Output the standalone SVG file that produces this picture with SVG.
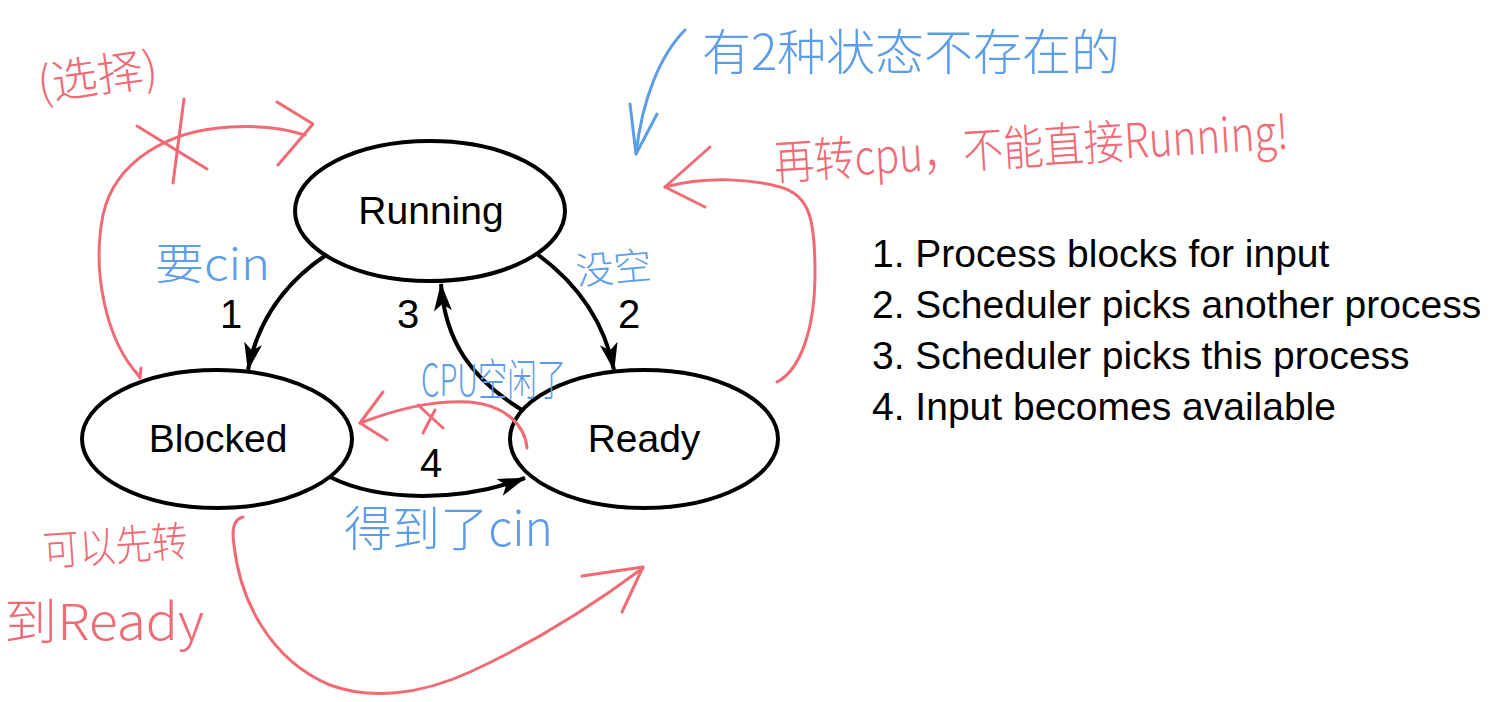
<svg xmlns="http://www.w3.org/2000/svg" width="1506" height="702" viewBox="0 0 1506 702">
<style>
.node{fill:#fff;stroke:#000;stroke-width:4}
.lbl{font-family:"Liberation Sans",Arial,sans-serif;font-size:39px;fill:#000;text-anchor:middle}
.num{font-family:"Liberation Sans",Arial,sans-serif;font-size:40px;fill:#000;text-anchor:middle}
.list{font-family:"Liberation Sans",Arial,sans-serif;font-size:39px;fill:#000}
.edge{fill:none;stroke:#000;stroke-width:4}
.rs{fill:none;stroke:#ef6b76;stroke-width:3;stroke-linecap:round;stroke-linejoin:round}
.bs{fill:none;stroke:#5d9de8;stroke-width:3;stroke-linecap:round;stroke-linejoin:round}
.hr{font-family:"Noto Sans CJK SC","Noto Sans",sans-serif;font-weight:300;fill:#ef6b76}
.hb{font-family:"Noto Sans CJK SC","Noto Sans",sans-serif;font-weight:300;fill:#5d9de8}
</style>
<defs>
<marker id="ah" markerUnits="userSpaceOnUse" markerWidth="32" markerHeight="20" refX="27" refY="9" orient="auto">
<path d="M0,0 L28,9 L0,18 L7,9 z" fill="#000"/>
</marker>
</defs>
<rect width="1506" height="702" fill="#fff"/>

<g id="connectors">
<path class="edge" d="M326,255 Q262,298 248,370" marker-end="url(#ah)"/>
<path class="edge" d="M537,254 Q600,300 614,370" marker-end="url(#ah)"/>
<path class="edge" d="M522,410 C470,378 445,340 441,284" marker-end="url(#ah)"/>
<path class="edge" d="M330,477 C380,502 460,502 525,478" marker-end="url(#ah)"/>
<text class="num" x="231" y="328">1</text>
<text class="num" x="629" y="328">2</text>
<text class="num" x="408" y="328">3</text>
<text class="num" x="431" y="477">4</text>
</g>

<g id="running">
<ellipse class="node" cx="430" cy="211" rx="135" ry="70"/>
<text class="lbl" x="431" y="224">Running</text>
</g>
<g id="blocked">
<ellipse class="node" cx="217" cy="439" rx="135" ry="69"/>
<text class="lbl" x="218" y="452">Blocked</text>
</g>
<g id="ready">
<ellipse class="node" cx="644" cy="439" rx="134" ry="69"/>
<text class="lbl" x="644" y="452">Ready</text>
</g>

<g id="legend">
<text class="list" x="872" y="267">1. Process blocks for input</text>
<text class="list" x="872" y="318">2. Scheduler picks another process</text>
<text class="list" x="872" y="369">3. Scheduler picks this process</text>
<text class="list" x="872" y="420">4. Input becomes available</text>
</g>

<g id="annotations">
<text class="hr" x="36" y="92" font-size="46" transform="rotate(-8 100 70)">(选择)</text>
<path class="rs" d="M140,377 C105,340 92,270 103,215 C115,160 170,130 230,127 C265,125 290,130 305,135"/>
<path class="rs" d="M136,372 L140,378 L141,368"/>
<path class="rs" d="M277,102 L313,124 L278,165"/>
<path class="rs" d="M137,126 L207,169 M184,99 L173,183"/>

<text class="hb" x="702" y="70" font-size="49" textLength="418" lengthAdjust="spacingAndGlyphs">有2种状态不存在的</text>
<path class="bs" d="M685,30 C660,55 642,100 636,154"/>
<path class="bs" d="M630,104 L636,154 L657,114"/>

<text class="hr" x="775" y="180" font-size="48" textLength="515" lengthAdjust="spacingAndGlyphs" transform="rotate(-3.5 775 180)">再转cpu，不能直接Running!</text>
<path class="rs" d="M777,382 C800,370 815,330 815,273 C815,220 810,195 780,187 C755,180 710,175 665,187"/>
<path class="rs" d="M710,147 L665,187 L705,207"/>

<text class="hb" x="155" y="280" font-size="44" textLength="115" lengthAdjust="spacingAndGlyphs">要cin</text>
<text class="hb" x="577" y="285" font-size="38" textLength="76" lengthAdjust="spacingAndGlyphs" transform="rotate(-5 577 285)">没空</text>
<text class="hb" x="421" y="396" font-size="44" textLength="145" lengthAdjust="spacingAndGlyphs">CPU空闲了</text>

<path class="rs" d="M527,448 C525,425 505,405 470,402 C430,400 395,410 360,423"/>
<path class="rs" d="M383,392 L360,423 L387,440"/>
<path class="rs" d="M418,405 L443,428 M435,410 L423,433"/>

<text class="hb" x="344" y="546" font-size="48" textLength="209" lengthAdjust="spacingAndGlyphs">得到了cin</text>

<text class="hr" x="44" y="566" font-size="42" textLength="145" lengthAdjust="spacingAndGlyphs" transform="rotate(-4 44 566)">可以先转</text>
<text class="hr" x="4" y="640" font-size="50" textLength="200" lengthAdjust="spacingAndGlyphs">到Ready</text>

<path class="rs" d="M243,517 Q230,520 234,545 C240,600 270,660 330,685 C370,700 420,695 470,672 C540,640 600,600 643,568"/>
<path class="rs" d="M582,576 L643,567 L622,612"/>
</g>
</svg>
